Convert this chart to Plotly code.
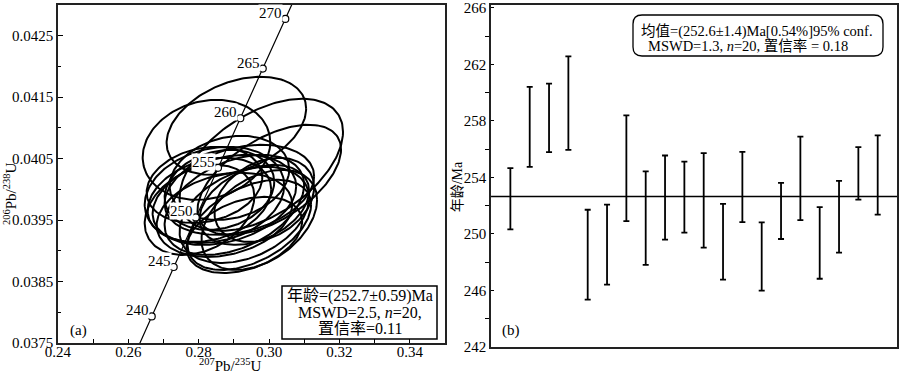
import numpy as np
import plotly.graph_objects as go

# ---------- Panel (a): concordia data ----------
conc_age = [240, 245, 250, 255, 260, 265, 270]
conc_x = [0.26665, 0.27289, 0.27917, 0.28549, 0.29183, 0.29821, 0.30462]
conc_y = [0.037932, 0.038737, 0.039543, 0.040350, 0.041157, 0.041965, 0.042773]
# curve end points (ages 237 and 272 Ma) so the line runs edge to edge
conc_line_x = [0.26290] + conc_x + [0.30719]
conc_line_y = [0.037449] + conc_y + [0.043097]

# error ellipses: centre, half-width (x), half-height (y), correlation
ell_cx = [0.29071, 0.28221, 0.29779, 0.30006, 0.28448, 0.28731, 0.28306, 0.29014, 0.29297, 0.28589,
          0.29439, 0.29722, 0.28023, 0.29156, 0.28873, 0.29581, 0.28731, 0.29864, 0.28164, 0.29297]
ell_cy = [0.041034, 0.040643, 0.040399, 0.040155, 0.039910, 0.039829, 0.039829, 0.039748, 0.039585, 0.039992,
          0.039422, 0.039503, 0.039666, 0.039992, 0.040187, 0.039748, 0.039585, 0.039829, 0.040073, 0.039259]
ell_hw = [0.01983, 0.01813, 0.02323, 0.02040, 0.01983, 0.02040, 0.01756, 0.01983, 0.01841, 0.01558,
          0.01756, 0.01643, 0.01558, 0.02125, 0.01700, 0.01558, 0.01926, 0.01416, 0.01643, 0.01643]
ell_hh = [0.000798, 0.000814, 0.001075, 0.000896, 0.000782, 0.000733, 0.000684, 0.000814, 0.000782, 0.000651,
          0.000733, 0.000814, 0.000733, 0.000733, 0.000684, 0.000651, 0.000684, 0.000684, 0.000619, 0.000619]
ell_rho = [0.35, 0.15, 0.50, 0.55, 0.20, 0.30, 0.25, 0.40, 0.35, 0.20,
           0.45, 0.40, 0.30, 0.30, 0.20, 0.35, 0.25, 0.30, 0.20, 0.35]

# ---------- Panel (b): weighted mean ----------
spot_idx = list(range(1, 21))
age_hi = [254.66, 260.40, 260.64, 262.56, 251.71, 252.08, 258.39, 254.43, 255.55, 255.11,
          255.72, 252.13, 255.81, 250.82, 253.61, 256.89, 251.89, 253.75, 256.14, 256.98]
age_lo = [250.32, 254.75, 255.79, 255.95, 245.35, 246.41, 250.91, 247.81, 249.60, 250.09,
          249.03, 246.76, 250.84, 245.99, 249.64, 250.98, 246.83, 248.68, 252.43, 251.36]
mean_age = 252.64

x_ticks_a = [0.24, 0.26, 0.28, 0.30, 0.32, 0.34]
y_ticks_a = [0.0375, 0.0385, 0.0395, 0.0405, 0.0415, 0.0425]
y_ticks_b = [242, 246, 250, 254, 258, 262, 266]

FONT = "Liberation Serif, Noto Sans CJK SC, serif"
fig = go.Figure()

t = np.linspace(0, 2 * np.pi, 181)
for cx, cy, hw, hh, r in zip(ell_cx, ell_cy, ell_hw, ell_hh, ell_rho):
    ex = cx + hw * np.cos(t)
    ey = cy + hh * (r * np.cos(t) + np.sqrt(1 - r * r) * np.sin(t))
    fig.add_trace(go.Scatter(x=ex, y=ey, mode="lines", line=dict(color="black", width=2),
                             xaxis="x", yaxis="y", hoverinfo="skip", showlegend=False))

fig.add_trace(go.Scatter(x=conc_line_x, y=conc_line_y, mode="lines",
                         line=dict(color="black", width=1.2), xaxis="x", yaxis="y", showlegend=False))
fig.add_trace(go.Scatter(x=conc_x, y=conc_y, mode="markers",
                         marker=dict(symbol="circle", size=7, color="white",
                                     line=dict(color="black", width=1.2)),
                         xaxis="x", yaxis="y", showlegend=False))

annotations = []
for a, x, y in zip(conc_age, conc_x, conc_y):
    annotations.append(dict(x=x, y=y, xref="x", yref="y", text=str(a), showarrow=False,
                            xanchor="right", yanchor="bottom", xshift=-2, yshift=-3,
                            bgcolor="white", borderpad=0,
                            font=dict(family=FONT, size=15, color="black")))

# panel (b)
centers = [(h + l) / 2 for h, l in zip(age_hi, age_lo)]
halves = [(h - l) / 2 for h, l in zip(age_hi, age_lo)]
fig.add_trace(go.Scatter(x=spot_idx, y=centers, mode="markers", marker=dict(size=1, color="rgba(0,0,0,0)"),
                         error_y=dict(type="data", array=halves, visible=True, color="black",
                                      thickness=1.8, width=3),
                         xaxis="x2", yaxis="y2", showlegend=False))
fig.add_trace(go.Scatter(x=[0, 21], y=[mean_age, mean_age], mode="lines",
                         line=dict(color="black", width=1.5), xaxis="x2", yaxis="y2", showlegend=False))

tickfont = dict(family="Liberation Serif", size=15, color="black")
fig.update_layout(
    width=900, height=375, margin=dict(l=0, r=0, t=0, b=0, autoexpand=False),
    font=dict(family=FONT, size=15, color="black"),
    paper_bgcolor="white", plot_bgcolor="white", showlegend=False,
    xaxis=dict(domain=[0.0644, 0.4944], range=[0.24, 0.35], tickvals=x_ticks_a,
               ticktext=[f"{v:.2f}" for v in x_ticks_a], automargin=False, ticklabelstandoff=-6,
               ticks="inside", ticklen=4, tickcolor="black", showgrid=False, zeroline=False,
               showline=True, linecolor="#222", linewidth=1.6, mirror=True, tickfont=tickfont,
               minor=dict(tickvals=[0.25, 0.27, 0.29, 0.31, 0.33], ticks="inside", ticklen=4, tickcolor="black"),
               anchor="y"),
    yaxis=dict(domain=[0.0853, 0.9867], range=[0.0375, 0.0430], tickvals=y_ticks_a,
               ticktext=[f"{v:.4f}" for v in y_ticks_a], automargin=False,
               ticks="inside", ticklen=5, tickcolor="black", showgrid=False, zeroline=False,
               showline=True, linecolor="#222", linewidth=1.6, mirror=True, tickfont=tickfont,
               minor=dict(tickvals=[0.0380, 0.0390, 0.0400, 0.0410, 0.0420], ticks="inside", ticklen=3, tickcolor="black"),
               anchor="x", ticklabeloverflow="allow"),
    xaxis2=dict(domain=[0.5456, 0.9967], range=[0, 21], showticklabels=False, ticks="", automargin=False,
                showgrid=False, zeroline=False, showline=True, linecolor="#222", linewidth=1.6,
                mirror=True, anchor="y2"),
    yaxis2=dict(domain=[0.0747, 0.9867], range=[242, 266.2], tickvals=y_ticks_b, automargin=False,
                ticktext=[str(v) for v in y_ticks_b], ticklabeloverflow="allow",
                ticks="inside", ticklen=3, tickcolor="black", showgrid=False, zeroline=False,
                showline=True, linecolor="#222", linewidth=1.6, mirror=True, tickfont=tickfont,
                minor=dict(tickvals=[244, 248, 252, 256, 260, 264], ticks="outside", ticklen=4, tickcolor="black"),
                anchor="x2"),
)

big = dict(family=FONT, size=15, color="black")
box = dict(family=FONT, size=16, color="black")
rbox = dict(family=FONT, size=14.5, color="black")
annotations += [
    dict(x=0.2556, y=0.027, xref="paper", yref="paper", showarrow=False, xanchor="center", yanchor="middle",
         text="<sup>207</sup>Pb/<sup>235</sup>U", font=big),
    dict(x=0.011, y=0.485, xref="paper", yref="paper", showarrow=False, textangle=-90,
         xanchor="center", yanchor="middle", text="<sup>206</sup>Pb/<sup>238</sup>U", font=big),
    dict(x=0.508, y=0.501, xref="paper", yref="paper", showarrow=False, textangle=-90,
         xanchor="center", yanchor="middle", text="年龄/Ma", font=dict(family=FONT, size=14, color="black")),
    dict(x=0.0867, y=0.12, xref="paper", yref="paper", showarrow=False, xanchor="center", yanchor="middle",
         text="(a)", font=big),
    dict(x=0.568, y=0.12, xref="paper", yref="paper", showarrow=False, xanchor="center", yanchor="middle",
         text="(b)", font=big),
    # left info box
    dict(x=0.4, y=1 - 296 / 375, xref="paper", yref="paper", showarrow=False, xanchor="center", yanchor="middle",
         text="年龄=(252.7±0.59)Ma", font=box),
    dict(x=0.4, y=1 - 312 / 375, xref="paper", yref="paper", showarrow=False, xanchor="center", yanchor="middle",
         text="MSWD=2.5, <i>n</i>=20,", font=box),
    dict(x=0.4, y=1 - 328 / 375, xref="paper", yref="paper", showarrow=False, xanchor="center", yanchor="middle",
         text="置信率=0.11", font=box),
    # right info box
    dict(x=757 / 900, y=1 - 31 / 375, xref="paper", yref="paper", showarrow=False, xanchor="center", yanchor="middle",
         text="均值=(252.6±1.4)Ma[0.54%]95% conf.", font=rbox),
    dict(x=748 / 900, y=1 - 46 / 375, xref="paper", yref="paper", showarrow=False, xanchor="center", yanchor="middle",
         text="MSWD=1.3, <i>n</i>=20, 置信率 = 0.18", font=rbox),
]
fig.update_layout(annotations=annotations)

# info box frames
x0, x1, y0, y1 = 633 / 900, 883 / 900, 1 - 56 / 375, 1 - 15 / 375
rx, ry = 9 / 900, 9 / 375
path = (f"M {x0+rx},{y1} L {x1-rx},{y1} Q {x1},{y1} {x1},{y1-ry} L {x1},{y0+ry} "
        f"Q {x1},{y0} {x1-rx},{y0} L {x0+rx},{y0} Q {x0},{y0} {x0},{y0+ry} L {x0},{y1-ry} "
        f"Q {x0},{y1} {x0+rx},{y1} Z")
fig.add_shape(type="path", path=path, xref="paper", yref="paper", line=dict(color="black", width=1.3),
              fillcolor="white", layer="below")
fig.add_shape(type="rect", x0=282 / 900, x1=437 / 900, y0=1 - 339 / 375, y1=1 - 286 / 375,
              xref="paper", yref="paper", line=dict(color="black", width=1.5), fillcolor="white", layer="above",
              opacity=1)

fig.write_html("out.html")
